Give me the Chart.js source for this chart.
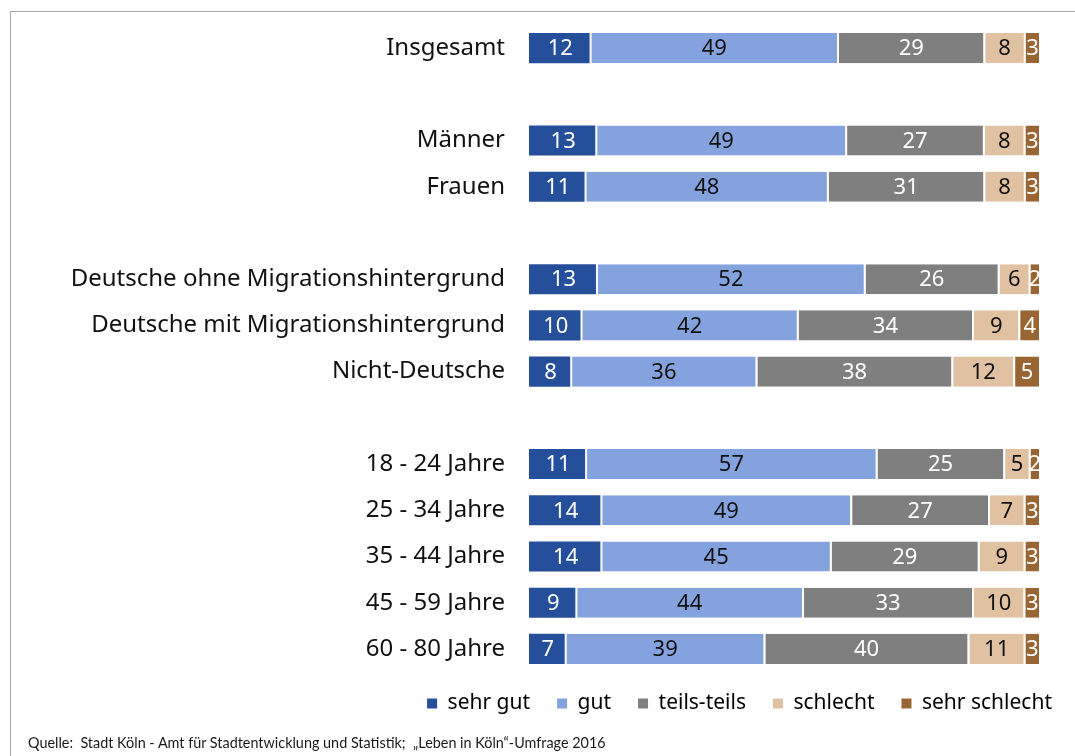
<!DOCTYPE html>
<html>
<head>
<meta charset="utf-8">
<script src="https://cdn.jsdelivr.net/npm/chart.js@4/dist/chart.umd.min.js"></script>
<style>
  body { margin: 0; background: #fff; }
  #wrap { position: relative; width: 1075px; height: 756px; overflow: hidden; }
  #frame { position: absolute; left: 10px; top: 11px; right: 0; bottom: 0;
           border-top: 1px solid #a6a6a6; border-left: 1px solid #a6a6a6; }
  #box { position: absolute; left: 0; top: 0; width: 1075px; height: 756px; }
  #source { position: absolute; left: 28px; top: 734px; font: 14.4px Lato, sans-serif; color: #1a1a1a; white-space: pre; }
</style>
</head>
<body>
<div id="wrap">
  <div id="frame"></div>
  <div id="box"><canvas id="chart"></canvas></div>
  <div id="source">Quelle:  Stadt Köln - Amt für Stadtentwicklung und Statistik;  „Leben in Köln“-Umfrage 2016</div>
</div>
<script>
const categories = ['Insgesamt', '', 'Männer', 'Frauen', '',
    'Deutsche ohne Migrationshintergrund', 'Deutsche mit Migrationshintergrund', 'Nicht-Deutsche', '',
    '18 - 24 Jahre', '25 - 34 Jahre', '35 - 44 Jahre', '45 - 59 Jahre', '60 - 80 Jahre']

const seriesNames = ['sehr gut', 'gut', 'teils-teils', 'schlecht', 'sehr schlecht']

const sehrGut = [12, null, 13, 11, null, 13, 10, 8, null, 11, 14, 14, 9, 7]
const gut = [49, null, 49, 48, null, 52, 42, 36, null, 57, 49, 45, 44, 39]
const teilsTeils = [29, null, 27, 31, null, 26, 34, 38, null, 25, 27, 29, 33, 40]
const schlecht = [8, null, 8, 8, null, 6, 9, 12, null, 5, 7, 9, 10, 11]
const sehrSchlecht = [3, null, 3, 3, null, 2, 4, 5, null, 2, 3, 3, 3, 3]

const series = [sehrGut, gut, teilsTeils, schlecht, sehrSchlecht]
const colors = ['#264f9b', '#84a3de', '#7f7f7f', '#e0c1a1', '#996633']
const textColors = ['#fff', '#111', '#fff', '#111', '#fff']

// every row is drawn as 100 %, the labels keep the rounded values
const rowTotals = categories.map((c, i) => series.reduce((s, arr) => s + (arr[i] || 0), 0))
const share = arr => arr.map((v, i) => v == null ? null : v / rowTotals[i] * 100)

const FONT = '"Noto Sans", sans-serif'

const valueLabels = {
    id: 'valueLabels',
    afterDatasetsDraw(chart) {
        const ctx = chart.ctx
        chart.data.datasets.forEach((ds, i) => {
            chart.getDatasetMeta(i).data.forEach((bar, j) => {
                const v = series[i][j]
                if (v == null) return
                const {x, y, base, height} = bar.getProps(['x', 'y', 'base', 'height'], true)
                const left = Math.min(x, base), w = Math.abs(x - base)
                ctx.save()
                ctx.beginPath()
                ctx.rect(left, y - height / 2, w, height)
                ctx.clip()
                ctx.fillStyle = textColors[i]
                ctx.font = '22px ' + FONT
                ctx.textAlign = 'center'
                ctx.textBaseline = 'middle'
                ctx.fillText(String(v), left + w / 2 + 1, y + 1)
                ctx.restore()
            })
        })
    }
}

// move the legend row to where the original has it
const legendPlace = {
    id: 'legendPlace',
    afterLayout(chart) {
        const lg = chart.legend
        const dx = 1079 - lg.right, dy = 666 - lg.top
        lg.left += dx; lg.right += dx
        lg.top += dy; lg.bottom += dy
    }
}

new Chart(document.getElementById('chart'), {
    type: 'bar',
    data: {
        labels: categories,
        datasets: series.map((arr, i) => ({
            label: seriesNames[i],
            data: share(arr),
            backgroundColor: colors[i],
            borderColor: '#fff',
            borderWidth: i === 0 ? 0 : {left: 2},
            borderSkipped: false,
        }))
    },
    options: {
        indexAxis: 'y',
        responsive: true,
        maintainAspectRatio: false,
        animation: false,
        barPercentage: 0.65,
        categoryPercentage: 1,
        layout: {padding: {top: 25, right: 36, bottom: 26, left: 0}},
        scales: {
            x: {stacked: true, min: 0, max: 100, display: false},
            y: {
                stacked: true,
                grid: {display: false, drawTicks: false},
                border: {display: false},
                ticks: {color: '#111', font: {family: FONT, size: 24}, padding: 24},
                afterFit(scale) {
                    scale.width = 529
                    scale.paddingTop = 0
                    scale.paddingBottom = 0
                }
            }
        },
        plugins: {
            tooltip: {enabled: false},
            legend: {
                position: 'bottom',
                align: 'end',
                labels: {
                    color: '#111',
                    font: {family: FONT, size: 21},
                    boxWidth: 10,
                    boxHeight: 10,
                    padding: 27,
                    generateLabels: chart => chart.data.datasets.map((ds, i) => ({
                        text: ds.label,
                        fillStyle: ds.backgroundColor,
                        strokeStyle: ds.backgroundColor,
                        lineWidth: 0,
                        datasetIndex: i
                    }))
                }
            }
        }
    },
    plugins: [valueLabels, legendPlace]
})
</script>
</body>
</html>
